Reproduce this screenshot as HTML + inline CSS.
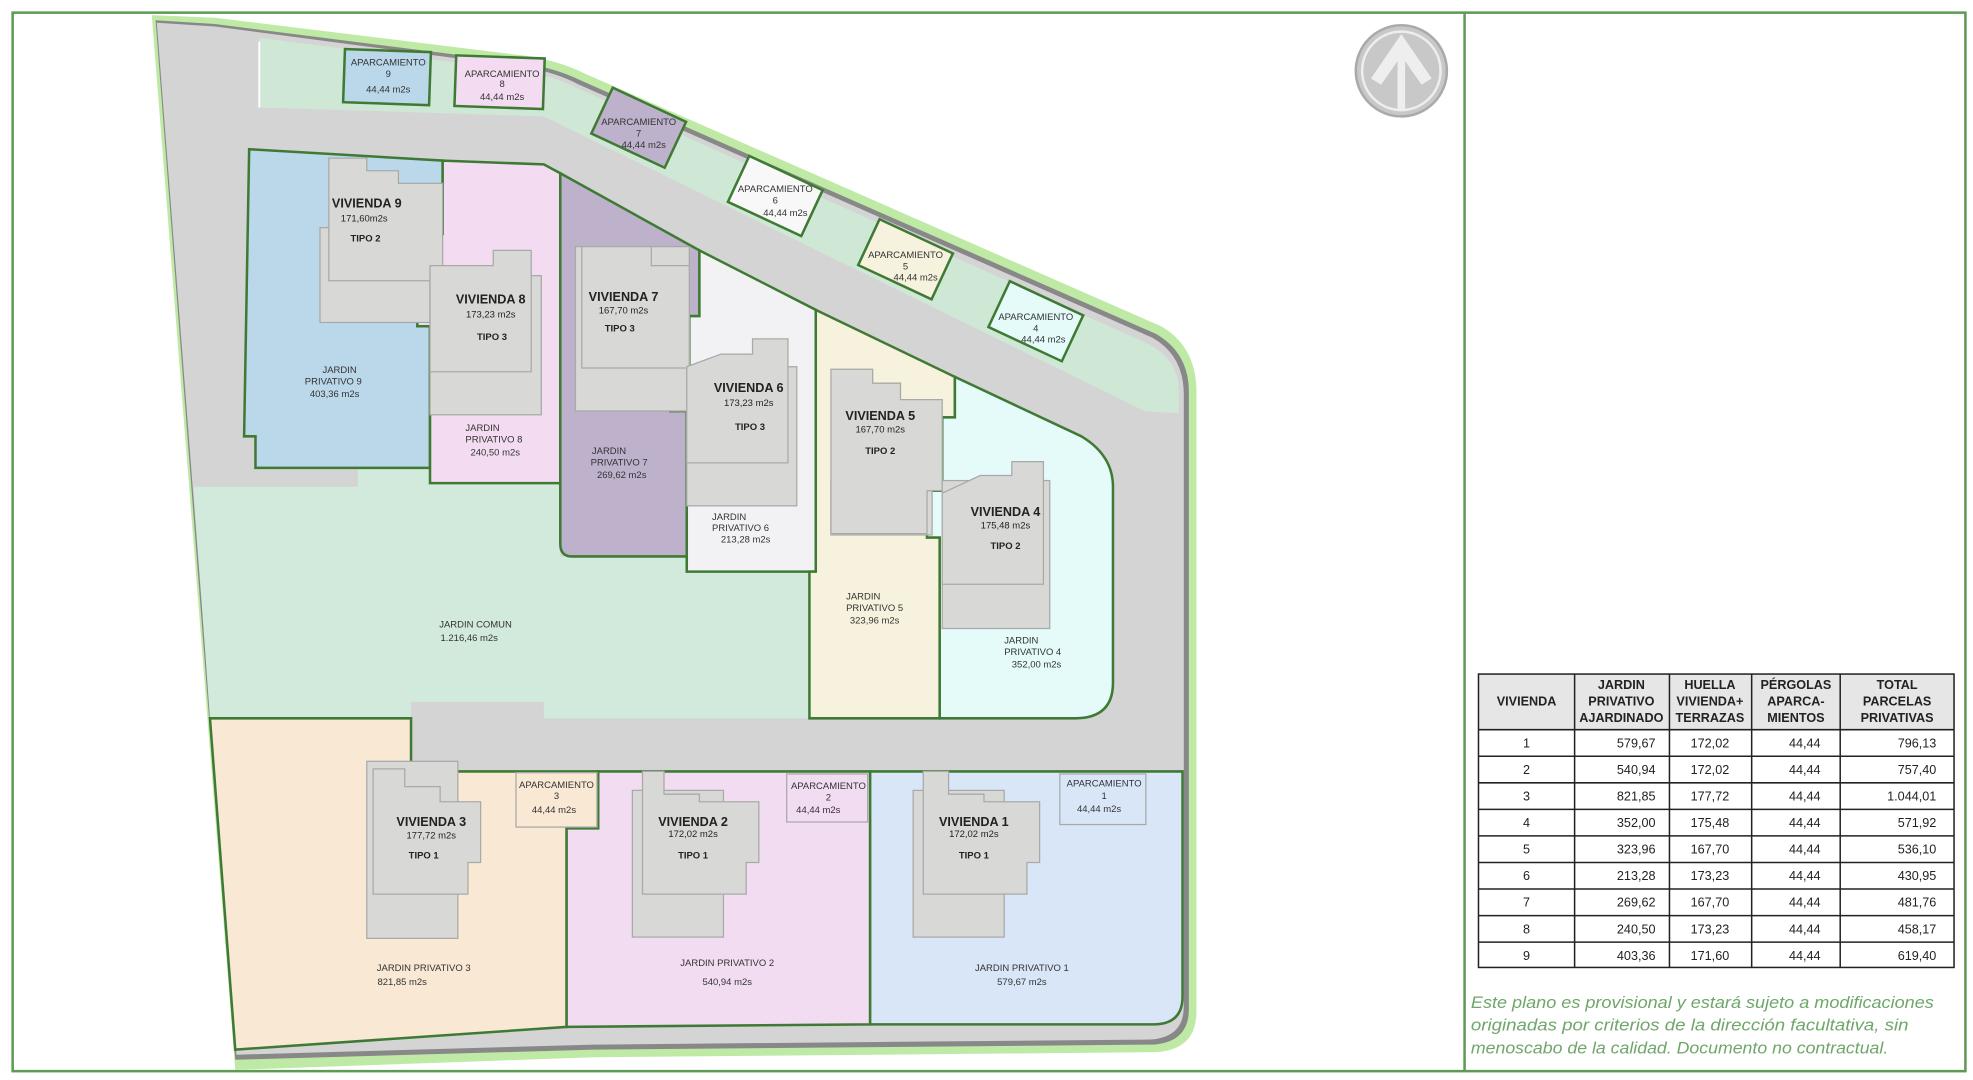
<!DOCTYPE html>
<html><head><meta charset="utf-8">
<style>
html,body{margin:0;padding:0;background:#fff;width:1973px;height:1080px;overflow:hidden}
svg{display:block;font-family:"Liberation Sans",sans-serif}
</style></head><body>
<svg width="1973" height="1080" viewBox="0 0 1560 854" preserveAspectRatio="none">
<rect x="0" y="0" width="1560" height="854" fill="#fff"/>
<rect x="10" y="10" width="1544" height="837" fill="none" stroke="#5e9a55" stroke-width="2"/>
<line x1="1158" y1="10" x2="1158" y2="847" stroke="#5e9a55" stroke-width="2"/>

<!-- compass -->
<circle cx="1108" cy="56" r="36" fill="#c8c8c8" stroke="#aaa" stroke-width="2"/>
<circle cx="1108" cy="56" r="31" fill="none" stroke="#eee" stroke-width="2"/>
<path d="M1108,27 L1132,62 L1124,67 L1108,44 L1092,67 L1084,62 Z" fill="#eee"/>
<rect x="1105" y="44" width="6" height="44" fill="#eee"/>

<!-- site outer green -->
<path d="M120,12 L170,14 L415,44 Q442,48 462,58 L918,258 Q946,274 946,310 L946,800 Q946,830 914,832 L470,836 L186,846 Z" fill="#bfeaa5"/>
<path d="M123,16 L170,19 L414,50 Q440,54 460,64 L914,264 Q940,279 940,310 L940,798 Q940,824 912,826 L470,830 L186,838 Z" fill="#888"/>
<path d="M124,18 L170,21 L414,53 Q439,57 458,67 L911,267 Q936,281 936,312 L936,796 Q936,820 910,822 L470,826 L187,834 Z" fill="#d4d4d4"/>

<!-- parking green strip -->
<path d="M205,30 L413,56 Q438,60 457,70 L908,272 Q932,285 932,308 L932,327 L905,325 L430,92 L205,85 Z" fill="#cfe8d6"/>
<line x1="205" y1="33" x2="205" y2="85" stroke="#fff" stroke-width="1.5"/>

<!-- common garden -->
<path d="M153,385 L283,385 L283,370 L340,370 L340,382 L443,382 L443,440 L543,440 L543,452 L640,452 L640,568 L430,568 L430,555 L325,555 L325,568 L166,568 Z" fill="#d2eadb"/>

<g stroke="#3f7a35" stroke-width="2">
<path d="M197,118 L350,127 L350,185 L342,185 L342,222 L330,222 L330,258 L340,258 L340,370 L202,370 L202,345 L193,345 Z" fill="#bad8ea"/>
<path d="M350,127 L430,130 L443,137 L443,382 L340,382 L340,258 L330,258 L330,222 L342,222 L342,185 L350,185 Z" fill="#f3dcf1"/>
<path d="M443,137 L553,198 L553,250 L545,250 L545,290 L530,290 L530,325 L543,325 L543,440 L452,440 Q443,440 443,430 Z" fill="#bdb1cb"/>
<path d="M553,198 L645,245 L645,452 L543,452 L543,325 L530,325 L530,290 L545,290 L545,250 L553,250 Z" fill="#f2f2f4"/>
<path d="M645,245 L755,298 L755,330 L745,330 L745,388 L733,388 L733,425 L743,425 L743,568 L640,568 L640,452 L645,452 Z" fill="#f7f2dd"/>
<path d="M755,298 L855,345 Q880,360 880,385 L880,540 Q880,568 850,568 L743,568 L743,425 L733,425 L733,388 L745,388 L745,330 L755,330 Z" fill="#e4fbf9"/>
<path d="M166,568 L325,568 L325,610 L473,610 L473,655 L448,655 L448,812 L186,830 Z" fill="#f8e8d4"/>
<path d="M448,655 L473,655 L473,610 L688,610 L688,810 L448,812 Z" fill="#f2dcf1"/>
<path d="M688,610 L935,610 L935,788 Q935,810 912,810 L688,810 Z" fill="#d8e6f8"/>
</g>

<!-- houses -->
<g fill="#d8d9d7" stroke="#a9aaa8" stroke-width="1">
<rect x="253" y="180" width="87" height="75"/><path d="M260,125 L290,125 L290,135 L315,135 L315,145 L350,145 L350,222 L260,222 Z"/>
<rect x="340" y="218" width="88" height="110"/><path d="M365,210 L390,210 L390,198 L420,198 L420,294 L340,294 L340,210 Z"/>
<rect x="455" y="195" width="90" height="130"/><path d="M460,195 L515,195 L515,210 L545,210 L545,291 L460,291 Z"/>
<rect x="543" y="290" width="87" height="110"/><path d="M570,280 L595,280 L595,268 L623,268 L623,366 L543,366 L543,290 Z"/>
<rect x="657" y="380" width="80" height="43"/><path d="M665,292 L690,292 L690,303 L712,303 L712,316 L745,316 L745,388 L733,388 L733,422 L657,422 L657,292 Z"/>
<rect x="745" y="380" width="85" height="117"/><path d="M775,376 L800,376 L800,365 L825,365 L825,462 L745,462 L745,390 Z"/>
<rect x="290" y="602" width="72" height="140"/><path d="M295,608 L320,608 L320,622 L348,622 L348,634 L380,634 L380,682 L370,682 L370,707 L295,707 Z"/>
<rect x="500" y="625" width="72" height="116"/><path d="M508,610 L525,610 L525,628 L553,628 L553,634 L600,634 L600,682 L590,682 L590,707 L508,707 Z"/>
<rect x="722" y="625" width="72" height="116"/><path d="M730,610 L750,610 L750,628 L778,628 L778,634 L822,634 L822,682 L812,682 L812,707 L730,707 Z"/>
</g>

<!-- parkings -->
<g stroke="#3f7a35" stroke-width="2">
<rect x="272" y="40" width="68" height="42" fill="#bad8ea" transform="rotate(2 306 61)"/>
<rect x="360" y="45" width="70" height="40" fill="#f3dcf1" transform="rotate(2 395 65)"/>
<rect x="473" y="81" width="64" height="40" fill="#bdb1cb" transform="rotate(25 505 101)"/>
<rect x="581" y="135" width="64" height="40" fill="#f8f8f8" transform="rotate(25 613 155)"/>
<rect x="684" y="185" width="64" height="40" fill="#f7f2dd" transform="rotate(25 716 205)"/>
<rect x="787" y="234" width="64" height="40" fill="#e4fbf9" transform="rotate(25 819 254)"/>
</g>
<g stroke="#a9aaa8" stroke-width="1">
<rect x="408" y="611" width="64" height="43" fill="#f8e8d4"/>
<rect x="622" y="612" width="64" height="38" fill="#f2dcf1"/>
<rect x="838" y="612" width="68" height="40" fill="#d8e6f8"/>
</g>

<!-- parking text -->
<g font-size="7.5" fill="#333" text-anchor="middle">
<text x="307" y="52">APARCAMIENTO</text><text x="307" y="61">9</text><text x="307" y="73">44,44 m2s</text>
<text x="397" y="61">APARCAMIENTO</text><text x="397" y="69">8</text><text x="397" y="79">44,44 m2s</text>
<text x="505" y="99">APARCAMIENTO</text><text x="505" y="108">7</text><text x="509" y="117">44,44 m2s</text>
<text x="613" y="152">APARCAMIENTO</text><text x="613" y="161">6</text><text x="621" y="171">44,44 m2s</text>
<text x="716" y="204">APARCAMIENTO</text><text x="716" y="213">5</text><text x="724" y="222">44,44 m2s</text>
<text x="819" y="253">APARCAMIENTO</text><text x="819" y="262">4</text><text x="825" y="271">44,44 m2s</text>
<text x="440" y="623">APARCAMIENTO</text><text x="440" y="632">3</text><text x="438" y="643">44,44 m2s</text>
<text x="655" y="624">APARCAMIENTO</text><text x="655" y="633">2</text><text x="647" y="643">44,44 m2s</text>
<text x="873" y="622">APARCAMIENTO</text><text x="873" y="632">1</text><text x="869" y="642">44,44 m2s</text>
</g>

<!-- house text -->
<g fill="#222" text-anchor="middle">
<g font-size="10" font-weight="bold">
<text x="290" y="164">VIVIENDA 9</text><text x="388" y="240">VIVIENDA 8</text><text x="493" y="238">VIVIENDA 7</text>
<text x="592" y="310">VIVIENDA 6</text><text x="696" y="332">VIVIENDA 5</text><text x="795" y="408">VIVIENDA 4</text>
<text x="341" y="653">VIVIENDA 3</text><text x="548" y="653">VIVIENDA 2</text><text x="770" y="653">VIVIENDA 1</text>
</g>
<g font-size="7.5">
<text x="288" y="175">171,60m2s</text><text x="388" y="251">173,23 m2s</text><text x="493" y="248">167,70 m2s</text>
<text x="592" y="321">173,23 m2s</text><text x="696" y="342">167,70 m2s</text><text x="795" y="418">175,48 m2s</text>
<text x="341" y="663">177,72 m2s</text><text x="548" y="662">172,02 m2s</text><text x="770" y="662">172,02 m2s</text>
</g>
<g font-size="7.5" font-weight="bold">
<text x="289" y="191">TIPO 2</text><text x="389" y="269">TIPO 3</text><text x="490" y="262">TIPO 3</text>
<text x="593" y="340">TIPO 3</text><text x="696" y="359">TIPO 2</text><text x="795" y="434">TIPO 2</text>
<text x="335" y="679">TIPO 1</text><text x="548" y="679">TIPO 1</text><text x="770" y="679">TIPO 1</text>
</g>
<g font-size="7.5" fill="#333">
<text x="255" y="295" text-anchor="start">JARDIN</text><text x="241" y="304" text-anchor="start">PRIVATIVO 9</text><text x="245" y="314" text-anchor="start">403,36 m2s</text>
<text x="368" y="341" text-anchor="start">JARDIN</text><text x="368" y="350" text-anchor="start">PRIVATIVO 8</text><text x="372" y="360" text-anchor="start">240,50 m2s</text>
<text x="468" y="359" text-anchor="start">JARDIN</text><text x="467" y="368" text-anchor="start">PRIVATIVO 7</text><text x="472" y="378" text-anchor="start">269,62 m2s</text>
<text x="563" y="411" text-anchor="start">JARDIN</text><text x="563" y="420" text-anchor="start">PRIVATIVO 6</text><text x="570" y="429" text-anchor="start">213,28 m2s</text>
<text x="669" y="474" text-anchor="start">JARDIN</text><text x="669" y="483" text-anchor="start">PRIVATIVO 5</text><text x="672" y="493" text-anchor="start">323,96 m2s</text>
<text x="794" y="509" text-anchor="start">JARDIN</text><text x="794" y="518" text-anchor="start">PRIVATIVO 4</text><text x="800" y="528" text-anchor="start">352,00 m2s</text>
<text x="376" y="496">JARDIN COMUN</text><text x="371" y="507">1.216,46 m2s</text>
<text x="335" y="768">JARDIN PRIVATIVO 3</text><text x="318" y="779">821,85 m2s</text>
<text x="575" y="764">JARDIN PRIVATIVO 2</text><text x="575" y="779">540,94 m2s</text>
<text x="808" y="768">JARDIN PRIVATIVO 1</text><text x="808" y="779">579,67 m2s</text>
</g>
</g>

<!-- table -->
<g>
<rect x="1169" y="533" width="376" height="44" fill="#e6e6e6"/>
<g stroke="#222" stroke-width="1.2" fill="none">
<rect x="1169" y="533" width="376" height="232"/>
<line x1="1245" y1="533" x2="1245" y2="765"/><line x1="1320" y1="533" x2="1320" y2="765"/>
<line x1="1385" y1="533" x2="1385" y2="765"/><line x1="1455" y1="533" x2="1455" y2="765"/>
<line x1="1169" y1="577" x2="1545" y2="577"/><line x1="1169" y1="598" x2="1545" y2="598"/>
<line x1="1169" y1="619" x2="1545" y2="619"/><line x1="1169" y1="640" x2="1545" y2="640"/>
<line x1="1169" y1="661" x2="1545" y2="661"/><line x1="1169" y1="682" x2="1545" y2="682"/>
<line x1="1169" y1="703" x2="1545" y2="703"/><line x1="1169" y1="724" x2="1545" y2="724"/>
<line x1="1169" y1="745" x2="1545" y2="745"/>
</g>
<g font-size="10" font-weight="bold" fill="#222" text-anchor="middle">
<text x="1207" y="558">VIVIENDA</text>
<text x="1282" y="545">JARDIN</text><text x="1282" y="558">PRIVATIVO</text><text x="1282" y="571">AJARDINADO</text>
<text x="1352" y="545">HUELLA</text><text x="1352" y="558">VIVIENDA+</text><text x="1352" y="571">TERRAZAS</text>
<text x="1420" y="545">PÉRGOLAS</text><text x="1420" y="558">APARCA-</text><text x="1420" y="571">MIENTOS</text>
<text x="1500" y="545">TOTAL</text><text x="1500" y="558">PARCELAS</text><text x="1500" y="571">PRIVATIVAS</text>
</g>
<g font-size="10" fill="#222">
<g text-anchor="middle">
<text x="1207" y="591">1</text><text x="1207" y="612">2</text><text x="1207" y="633">3</text><text x="1207" y="654">4</text><text x="1207" y="675">5</text><text x="1207" y="696">6</text><text x="1207" y="717">7</text><text x="1207" y="738">8</text><text x="1207" y="759">9</text>
<text x="1352" y="591">172,02</text><text x="1352" y="612">172,02</text><text x="1352" y="633">177,72</text><text x="1352" y="654">175,48</text><text x="1352" y="675">167,70</text><text x="1352" y="696">173,23</text><text x="1352" y="717">167,70</text><text x="1352" y="738">173,23</text><text x="1352" y="759">171,60</text>
<text x="1427" y="591">44,44</text><text x="1427" y="612">44,44</text><text x="1427" y="633">44,44</text><text x="1427" y="654">44,44</text><text x="1427" y="675">44,44</text><text x="1427" y="696">44,44</text><text x="1427" y="717">44,44</text><text x="1427" y="738">44,44</text><text x="1427" y="759">44,44</text>
</g>
<g text-anchor="end">
<text x="1309" y="591">579,67</text><text x="1309" y="612">540,94</text><text x="1309" y="633">821,85</text><text x="1309" y="654">352,00</text><text x="1309" y="675">323,96</text><text x="1309" y="696">213,28</text><text x="1309" y="717">269,62</text><text x="1309" y="738">240,50</text><text x="1309" y="759">403,36</text>
<text x="1531" y="591">796,13</text><text x="1531" y="612">757,40</text><text x="1531" y="633">1.044,01</text><text x="1531" y="654">571,92</text><text x="1531" y="675">536,10</text><text x="1531" y="696">430,95</text><text x="1531" y="717">481,76</text><text x="1531" y="738">458,17</text><text x="1531" y="759">619,40</text>
</g>
</g>
<g font-size="13" fill="#6fa66a" font-style="italic">
<text x="1163" y="797" textLength="366" lengthAdjust="spacingAndGlyphs">Este plano es provisional y estará sujeto a modificaciones</text>
<text x="1163" y="815" textLength="346" lengthAdjust="spacingAndGlyphs">originadas por criterios de la dirección facultativa, sin</text>
<text x="1163" y="833" textLength="330" lengthAdjust="spacingAndGlyphs">menoscabo de la calidad. Documento no contractual.</text>
</g>
</g>
</svg>
</body></html>
